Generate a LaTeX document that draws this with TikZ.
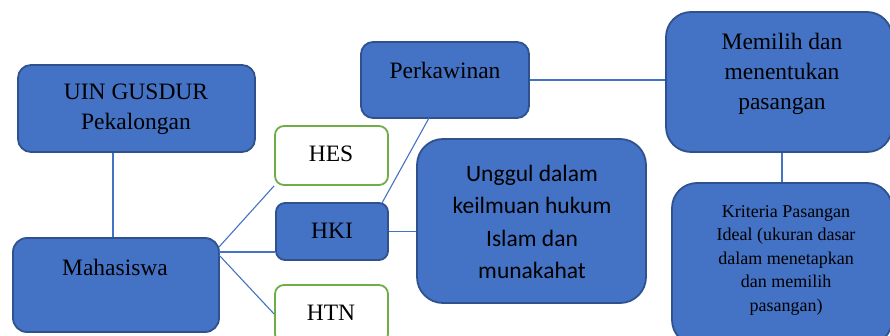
\documentclass[tikz,border=0pt]{standalone}
\usepackage{fontspec}
\setmainfont{Liberation Serif}
\newfontfamily\calibri{Carlito}
\definecolor{accblue}{HTML}{4472C4}
\definecolor{bordblue}{HTML}{2F528F}
\definecolor{accgreen}{HTML}{70AD47}
\tikzset{
  bluebox/.style={draw=bordblue, line width=1.8pt, fill=accblue, inner sep=0pt},
  greenbox/.style={draw=accgreen, line width=1.8pt, fill=white, inner sep=0pt, rounded corners=9pt},
  txt/.style={inner sep=0pt, align=center, text=black, font=\fontsize{23.5}{30}\selectfont},
  conn/.style={draw=accblue, line width=1.1pt}
}
\begin{document}
\begin{tikzpicture}[x=1pt,y=-1pt]
\useasboundingbox (0,0) rectangle (890,336);
\clip (0,0) rectangle (890,336);
% boxes
\node[bluebox, rounded corners=13pt, minimum width=237pt, minimum height=87pt] (uin) at (136.5,108.5) {};
\node[bluebox, rounded corners=14pt, minimum width=206pt, minimum height=94pt] (maha) at (116,285) {};
\node[greenbox, minimum width=113pt, minimum height=59pt] (hes) at (331.5,155.5) {};
\node[bluebox, rounded corners=9pt, minimum width=112pt, minimum height=57pt] (hki) at (332,231.5) {};
\node[greenbox, minimum width=113pt, minimum height=58pt] (htn) at (331.5,314) {};
\node[bluebox, rounded corners=12pt, minimum width=168pt, minimum height=76pt] (perk) at (445,80) {};
\node[bluebox, rounded corners=26pt, minimum width=229pt, minimum height=164pt] (unggul) at (531.5,221) {};
\node[bluebox, rounded corners=25pt, minimum width=226pt, minimum height=140pt] (mem) at (779,82) {};
\node[bluebox, rounded corners=25pt, minimum width=220pt, minimum height=162pt] (krit) at (782,264) {};
% texts
\node[txt] (tuin) at (136,109) {UIN GUSDUR\\Pekalongan};
\node[txt] (tmaha) at (115,267) {Mahasiswa};
\node[txt] (thes) at (331,154) {HES};
\node[txt] (thki) at (332,231) {HKI};
\node[txt] (thtn) at (331,313) {HTN};
\node[txt] (tperk) at (445,70) {Perkawinan};
\node[txt, font=\calibri\fontsize{23.5}{32.5}\selectfont] (tung) at (532,222) {Unggul dalam\\keilmuan hukum\\Islam dan\\munakahat};
\node[txt] (tmem) at (782,74) {Memilih dan\\menentukan\\pasangan};
\node[txt, font=\fontsize{18}{23.5}\selectfont] (tkrit) at (786,260) {Kriteria Pasangan\\Ideal (ukuran dasar\\dalam menetapkan\\dan memilih\\pasangan)};
% connector anchor points
\coordinate (m1) at (219,247);
\coordinate (m2) at (219,252);
\coordinate (m3) at (219,255);
\coordinate (p1) at (429,118);
\coordinate (k1) at (382,203);
% connectors
\draw[conn] (uin.south -| 113,0) -- (maha.north -| 113,0);
\draw[conn] (m1) -- (hes.south west);
\draw[conn] (m2) -- (hki.west |- m2);
\draw[conn] (m3) -- (htn.west);
\draw[conn] (p1) -- (k1);
\draw[conn] (hki.east) -- (hki.east -| unggul.west);
\draw[conn] (perk.east) -- (perk.east -| mem.west);
\draw[conn] (krit.north |- mem.south) -- (krit.north);
\end{tikzpicture}
\end{document}
